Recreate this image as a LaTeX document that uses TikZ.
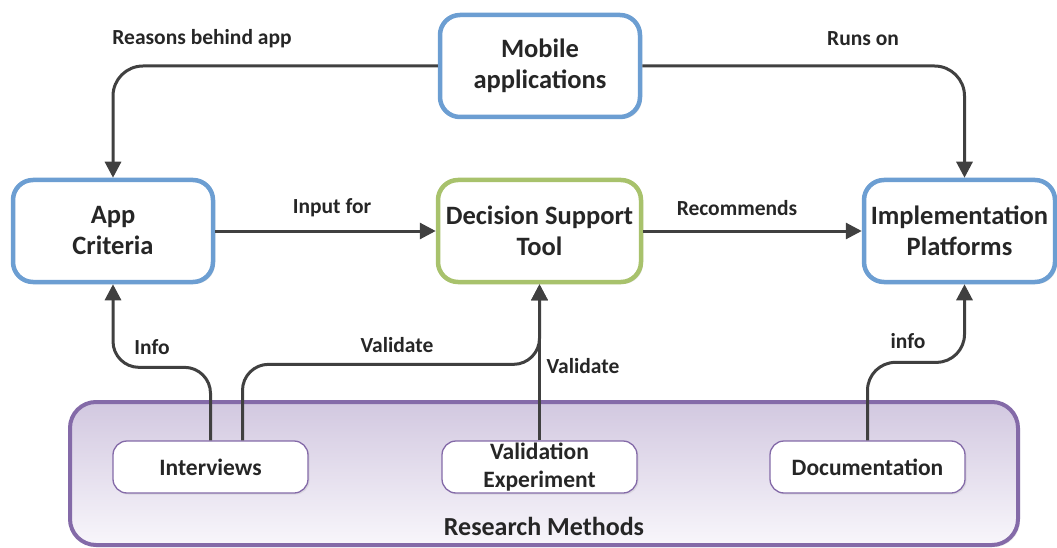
\documentclass[tikz,border=0pt]{standalone}
\usepackage{fontspec}
\setmainfont{Carlito}
\usetikzlibrary{arrows.meta,shadows}

\definecolor{boxblue}{RGB}{108,158,210}
\definecolor{boxgreen}{RGB}{168,194,108}
\definecolor{grpurple}{RGB}{132,106,168}
\definecolor{grtop}{RGB}{210,200,224}
\definecolor{grbot}{RGB}{248,246,251}
\definecolor{txt}{RGB}{38,38,38}
\definecolor{linec}{RGB}{64,64,64}

\tikzset{
  mainbox/.style={draw=boxblue, line width=4.5pt, rounded corners=20pt, fill=white,
    minimum height=102pt, align=center, text=txt,
    font=\fontsize{26.5}{31}\selectfont\bfseries,
    drop shadow={opacity=0.18, shadow xshift=2pt, shadow yshift=-2pt}},
  methodbox/.style={draw=grpurple, line width=1.3pt, rounded corners=14pt, fill=white,
    minimum width=195pt, minimum height=52pt, align=center, text=txt, inner sep=1pt,
    font=\fontsize{23.5}{28}\selectfont\bfseries,
    drop shadow={opacity=0.15, shadow xshift=1.5pt, shadow yshift=-1.5pt}},
  lbl/.style={text=txt, font=\fontsize{21.5}{24}\selectfont\bfseries, inner sep=0pt},
  conn/.style={draw=linec, line width=3pt, rounded corners=28pt,
    -{Triangle[length=16pt,width=16pt]}},
}

\begin{document}
\begin{tikzpicture}[x=1pt,y=-1pt]
\useasboundingbox (0,0) rectangle (1057,548);

% research methods group
\node[draw=grpurple, line width=4pt, rounded corners=26pt,
      top color=grtop, bottom color=grbot,
      minimum width=948pt, minimum height=143pt,
      drop shadow={opacity=0.15, shadow xshift=2pt, shadow yshift=-2pt}]
      (rm) at (544,473.5) {};
\node[lbl, font=\fontsize{26}{30}\selectfont\bfseries] (rmlabel) at (544,526) {Research Methods};

% main boxes
\node[mainbox, minimum width=200pt] (mob) at (540,66) {Mobile\\applications};
\node[mainbox, minimum width=200pt] (crit) at (113,231) {App\\Criteria};
\node[mainbox, draw=boxgreen, minimum width=203pt] (dst) at (539.5,231) {Decision Support\\Tool};
\node[mainbox, minimum width=191pt] (impl) at (959.5,231) {Implementation\\Platforms};

% method boxes
\node[methodbox] (iv)  at (210.5,467) {Interviews};
\node[methodbox] (ve)  at (539.5,467) {Validation\\Experiment};
\node[methodbox] (doc) at (867.5,467) {Documentation};

% connectors
\draw[conn, rounded corners=30pt] (mob.west) -| (crit.north);
\draw[conn, rounded corners=30pt] (mob.east) -| ([xshift=5pt]impl.north);
\draw[conn] (crit.east) -- (dst.west);
\draw[conn] (dst.east) -- (impl.west);
\draw[conn, rounded corners=26pt] (iv.north) -- ++(0,-73) -| (crit.south);
\draw[conn, rounded corners=26pt] ([xshift=32pt]iv.north) -- ++(0,-76) -| (dst.south);
\draw[conn] (ve.north) -- (dst.south);
\draw[conn, rounded corners=28pt] (doc.north) -- ++(0,-78) -| ([xshift=5pt]impl.south);

% connector labels
\node[lbl] (lreasons) at (202,39) {Reasons behind app};
\node[lbl] (lruns) at (863,39) {Runs on};
\node[lbl] (linput) at (332,208) {Input for};
\node[lbl] (lrec) at (737,208) {Recommends};
\node[lbl] (linfoa) at (152,347) {Info};
\node[lbl] (lvala) at (397,345) {Validate};
\node[lbl] (lvalb) at (583,366) {Validate};
\node[lbl] (linfob) at (908,341) {info};
\end{tikzpicture}
\end{document}
